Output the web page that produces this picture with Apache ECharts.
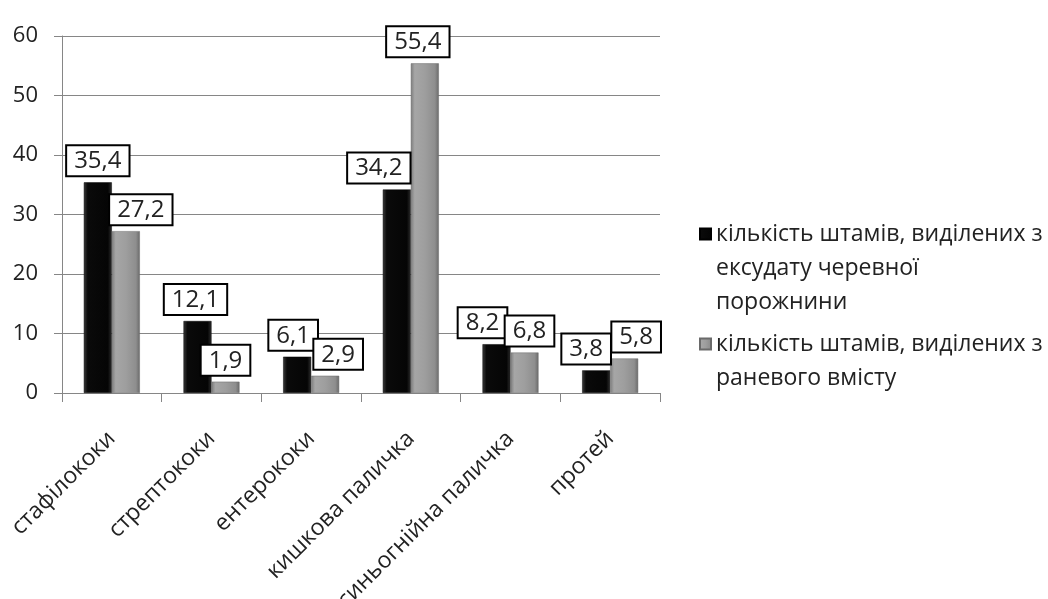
<!DOCTYPE html>
<html>
<head>
<meta charset="utf-8">
<script src="https://cdn.jsdelivr.net/npm/echarts@6/dist/echarts.min.js"></script>
<style>
html,body{margin:0;padding:0;background:#fff;}
#chart{width:1048px;height:599px;}
</style>
</head>
<body>
<div id="chart"></div>
<script>
// ---- data ----
const categories = ['стафілококи', 'стрептококи', 'ентерококи', 'кишкова паличка', 'синьогнійна паличка', 'протей'];
const seriesNames = [
  'кількість штамів, виділених з ексудату черевної порожнини',
  'кількість штамів, виділених з раневого вмісту'
];
const exudateValues = [35.4, 12.1, 6.1, 34.2, 8.2, 3.8];
const woundValues = [27.2, 1.9, 2.9, 55.4, 6.8, 5.8];

// ---- label nudges (horizontal, px) to mimic the manually placed boxes ----
const exudateLabelDx = [0, -2, -4, -18, -14, -10];
const woundLabelDx = [15, 0, 13, -7, 5, 12];

const FONT = 'Open Sans';

function makeData(values, dx) {
  return values.map((v, i) => ({ value: v, label: { offset: [dx[i], 0] } }));
}

const blackFill = new echarts.graphic.LinearGradient(0, 0, 1, 0, [
  { offset: 0, color: '#3a3a3a' },
  { offset: 0.14, color: '#0a0a0a' },
  { offset: 0.86, color: '#050505' },
  { offset: 1, color: '#2e2e2e' }
]);
const grayFill = new echarts.graphic.LinearGradient(0, 0, 1, 0, [
  { offset: 0, color: '#7c7c7c' },
  { offset: 0.14, color: '#a6a6a6' },
  { offset: 0.5, color: '#9e9e9e' },
  { offset: 0.86, color: '#8e8e8e' },
  { offset: 1, color: '#6a6a6a' }
]);

const labelStyle = {
  show: true,
  position: 'top',
  distance: 7,
  formatter: p => String(p.value).replace('.', ','),
  fontFamily: FONT,
  fontSize: 24,
  color: '#222',
  backgroundColor: '#fff',
  borderColor: '#000',
  borderWidth: 2,
  padding: [3, 7, 2, 7]
};

const chart = echarts.init(document.getElementById('chart'), null, { renderer: 'canvas' });
chart.setOption({
  animation: false,
  backgroundColor: '#fff',
  grid: { left: 62, right: 388, top: 36, bottom: 206, containLabel: false, outerBoundsMode: 'none' },
  legend: {
    orient: 'vertical',
    left: 694,
    top: 144,
    itemWidth: 11,
    itemHeight: 11,
    itemGap: -26,
    icon: 'rect',
    data: seriesNames,
    formatter: name => name === seriesNames[0]
      ? '\n\nкількість штамів, виділених з\nексудату черевної\nпорожнини'
      : '\nкількість штамів, виділених з\nраневого вмісту',
    textStyle: { fontFamily: FONT, fontSize: 23, lineHeight: 34, color: '#222' }
  },
  xAxis: {
    type: 'category',
    data: categories,
    axisLine: { lineStyle: { color: '#868686', width: 1 } },
    axisTick: { show: true, length: 9, lineStyle: { color: '#868686' } },
    axisLabel: { rotate: 45, margin: 42, fontFamily: FONT, fontSize: 23, color: '#222', interval: 0 },
    splitLine: { show: false }
  },
  yAxis: {
    type: 'value',
    min: 0,
    max: 60,
    interval: 10,
    axisLine: { show: true, lineStyle: { color: '#868686', width: 1 } },
    axisTick: { show: true, length: 8, lineStyle: { color: '#868686' } },
    axisLabel: { margin: 24, fontFamily: FONT, fontSize: 22, color: '#222' },
    splitLine: { lineStyle: { color: '#868686', width: 1 } }
  },
  series: [
    {
      name: seriesNames[0],
      type: 'bar',
      barWidth: 28,
      barGap: '0%',
      data: makeData(exudateValues, exudateLabelDx),
      itemStyle: { color: blackFill, borderColor: '#000', borderWidth: 0.5 },
      label: labelStyle
    },
    {
      name: seriesNames[1],
      type: 'bar',
      barWidth: 28,
      barGap: '0%',
      data: makeData(woundValues, woundLabelDx),
      itemStyle: { color: grayFill, borderColor: '#6a6a6a', borderWidth: 0.5 },
      label: labelStyle
    }
  ]
});
</script>
</body>
</html>
